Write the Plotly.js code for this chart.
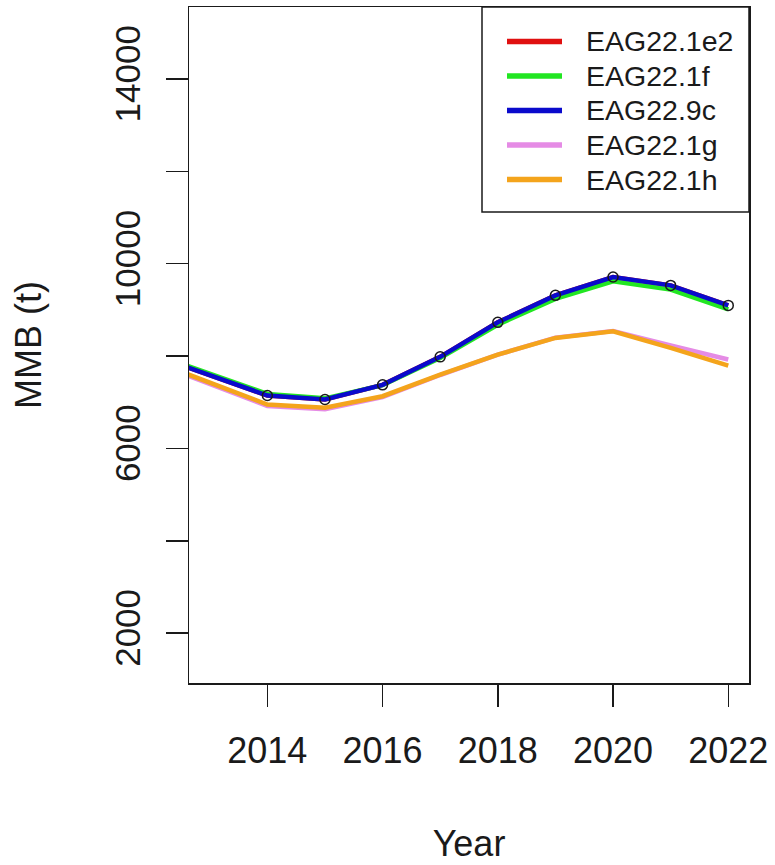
<!DOCTYPE html>
<html>
<head>
<meta charset="utf-8">
<script src="https://cdn.plot.ly/plotly-3.0.1.min.js"></script>
<style>
  html, body { margin: 0; padding: 0; background: #fff; }
  #chart { width: 775px; height: 865px; }
</style>
</head>
<body>
<div id="chart"></div>
<script>
// Mature male biomass (t) by model scenario
const years = [2012, 2013, 2014, 2015, 2016, 2017, 2018, 2019, 2020, 2021, 2022];

const mmb_1e2 = [8030, 7590, 7146, 7059, 7377, 7983, 8731, 9315, 9712, 9531, 9098];
const mmb_1f  = [8060, 7620, 7180, 7085, 7370, 7960, 8680, 9240, 9620, 9440, 9010];
const mmb_9c  = [8030, 7590, 7146, 7059, 7377, 7983, 8731, 9315, 9712, 9531, 9098];
const mmb_1g  = [7870, 7400, 6920, 6850, 7110, 7590, 8030, 8400, 8545, 8230, 7925];
const mmb_1h  = [7900, 7423, 6951, 6880, 7131, 7600, 8032, 8393, 8536, 8177, 7795];

// Points plotted over the 9c line
const pointYears = [2014, 2015, 2016, 2017, 2018, 2019, 2020, 2021, 2022];
const pointMMB   = [7146, 7059, 7377, 7983, 8731, 9315, 9712, 9531, 9098];

const seriesNames  = ["EAG22.1e2", "EAG22.1f", "EAG22.9c", "EAG22.1g", "EAG22.1h"];
const seriesValues = [mmb_1e2, mmb_1f, mmb_9c, mmb_1g, mmb_1h];
const seriesColors = ["#e01010", "#22e622", "#0a0acc", "#e58be5", "#f4a41c"];

const xTickVals = [2014, 2016, 2018, 2020, 2022];
const yTickVals = [2000, 4000, 6000, 8000, 10000, 12000, 14000];
const yTickText = ["2000", "", "6000", "", "10000", "", "14000"];

const FONT = "Liberation Sans, Arial, sans-serif";
const INK = "#1a1a1a";

const traces = seriesNames.map((name, i) => ({
  x: years,
  y: seriesValues[i],
  type: "scatter",
  mode: "lines",
  name: name,
  line: { color: seriesColors[i], width: 4.5 },
  showlegend: false,
  hoverinfo: "skip"
}));

traces.push({
  x: pointYears,
  y: pointMMB,
  type: "scatter",
  mode: "markers",
  name: "points",
  marker: { symbol: "circle-open", size: 10, color: INK, line: { width: 1.5, color: INK } },
  showlegend: false,
  hoverinfo: "skip"
});

// Plot-area geometry (pixels) used to place the legend box
const M = { l: 189, r: 26, t: 7, b: 182 };
const PW = 775 - M.l - M.r, PH = 865 - M.t - M.b;
const px = v => (v - M.l) / PW;
const py = v => 1 - (v - M.t) / PH;

const shapes = [{
  type: "rect", xref: "paper", yref: "paper",
  x0: px(482), x1: 1, y0: py(212), y1: 1,
  line: { color: INK, width: 1.5 }, fillcolor: "rgba(255,255,255,0)"
}];
const annotations = [];
seriesNames.forEach((name, i) => {
  const rowY = 41.5 + i * 34.5;
  shapes.push({
    type: "line", xref: "paper", yref: "paper",
    x0: px(507), x1: px(562), y0: py(rowY), y1: py(rowY),
    line: { color: seriesColors[i], width: 5.5 }
  });
  annotations.push({
    xref: "paper", yref: "paper", x: px(584), y: py(rowY),
    xanchor: "left", yanchor: "middle", showarrow: false,
    text: name, font: { family: FONT, size: 28.5, color: INK }
  });
});

const layout = {
  width: 775, height: 865,
  margin: M,
  paper_bgcolor: "#ffffff", plot_bgcolor: "#ffffff",
  showlegend: false,
  xaxis: {
    range: [2012.64, 2022.36],
    tickvals: xTickVals,
    ticks: "outside", ticklen: 22, tickwidth: 1.5, tickcolor: INK,
    ticklabelstandoff: 13,
    showline: true, mirror: true, linecolor: INK, linewidth: 1.5,
    showgrid: false, zeroline: false,
    tickfont: { family: FONT, size: 36, color: INK },
    title: { text: "Year", font: { family: FONT, size: 36, color: INK }, standoff: 61 }
  },
  yaxis: {
    range: [920, 15560],
    tickvals: yTickVals, ticktext: yTickText, tickangle: -90,
    ticks: "outside", ticklen: 22, tickwidth: 1.5, tickcolor: INK,
    ticklabelstandoff: 12,
    showline: true, mirror: true, linecolor: INK, linewidth: 1.5,
    showgrid: false, zeroline: false,
    tickfont: { family: FONT, size: 35, color: INK },
    title: { text: "MMB (t)", font: { family: FONT, size: 36, color: INK }, standoff: 55 }
  },
  shapes: shapes,
  annotations: annotations
};

Plotly.newPlot("chart", traces, layout, { staticPlot: true, displayModeBar: false });
</script>
</body>
</html>
